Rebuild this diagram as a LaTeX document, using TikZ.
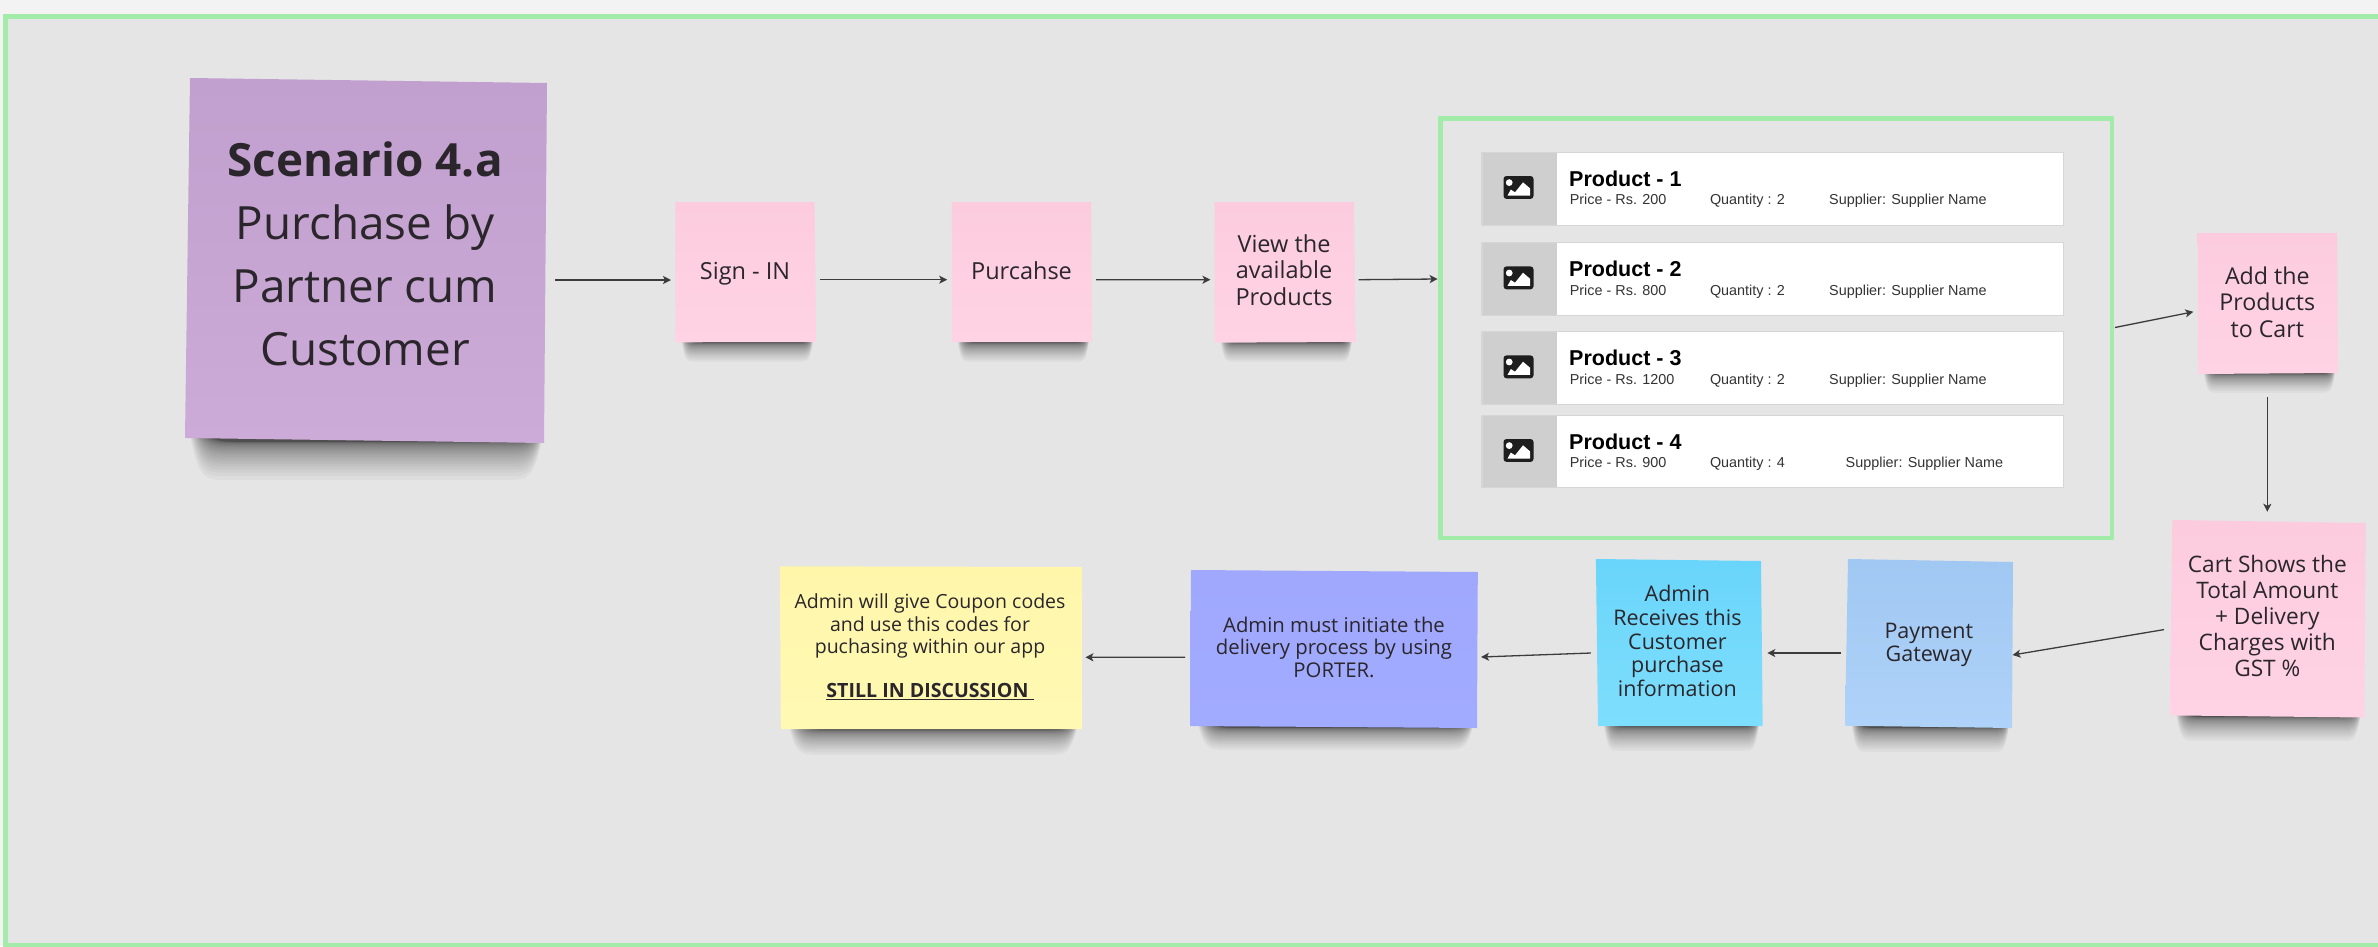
\documentclass[tikz,border=0pt]{standalone}
\usepackage{fontspec}
\setmainfont{Open Sans}
\newfontfamily\cardfont{Liberation Sans}
\usetikzlibrary{arrows.meta,calc}
\definecolor{pagebg}{HTML}{F3F3F3}
\definecolor{boardbg}{HTML}{E5E5E5}
\definecolor{framegreen}{HTML}{A3EBA9}
\definecolor{ink}{HTML}{2A262B}
\definecolor{arrowink}{HTML}{3C3C3C}
\definecolor{cardline}{HTML}{D6D6D6}
\definecolor{panegrey}{HTML}{CFCFCF}
\definecolor{icondark}{HTML}{1E1E1E}
\definecolor{purpA}{HTML}{C19FCE}\definecolor{purpB}{HTML}{CDABD8}
\definecolor{pinkA}{HTML}{FCCCDE}\definecolor{pinkB}{HTML}{FFD3E4}
\definecolor{yelA}{HTML}{FFF6AA}\definecolor{yelB}{HTML}{FFF9B4}
\definecolor{vioA}{HTML}{9FA8FC}\definecolor{vioB}{HTML}{A1ABFF}
\definecolor{cyaA}{HTML}{69D5FA}\definecolor{cyaB}{HTML}{7FDEFD}
\definecolor{bluA}{HTML}{A0C8F2}\definecolor{bluB}{HTML}{AFD2F9}
\tikzset{
  x=1pt,y=-1pt,
  conn/.style={draw=arrowink,line width=1.3pt,-{Stealth[length=8pt,width=8pt,inset=2pt]}},
  notebody/.style={inner sep=0pt,outer sep=0pt,rectangle},
  notetext/.style={inner sep=0pt,outer sep=0pt,align=center,text=ink},
  cardbox/.style={inner sep=0pt,outer sep=0pt,rectangle,draw=cardline,line width=1.5pt,fill=white},
  cardtitle/.style={inner sep=0pt,anchor=base west,font=\cardfont\bfseries\fontsize{21.5}{24}\selectfont,text=black},
  carddetail/.style={inner sep=0pt,anchor=base west,font=\cardfont\fontsize{14.4}{18}\selectfont,text=black!80},
}
\newcommand{\productcard}[8]{%
  \node[cardbox,minimum width=581.5pt,minimum height=#2pt] (#1) at (1772.75,#3+#2/2) {};
  \node[inner sep=0pt,outer sep=0pt,fill=panegrey,minimum width=74pt,minimum height=#2pt-1pt] (#1-pane) at (1519.5,#3+#2/2) {};
  \begin{scope}[shift={(0,#3)}]
    \fill[icondark,rounded corners=3pt] (1503.5,23.7) rectangle (1533.5,46.6);
    \fill[white] (1509.2,30.3) circle (3.4);
    \fill[white] (1507.5,43.2) -- (1510.8,37.3) -- (1515,40) -- (1523,30) -- (1530,36) -- (1530,43.2) -- cycle;
    \node[cardtitle] (#1-title) at (1569,33.7) {#4};
    \node[carddetail] (#1-price) at (1569.6,52.3) {#5};
    \node[carddetail] (#1-qty) at (1709.8,52.3) {#6};
    \node[carddetail] (#1-sup) at (#7,52.3) {#8};
  \end{scope}
}
\newcommand{\shadowband}[4]{%
  \foreach \i in {0,...,29}{%
    \pgfmathsetmacro{\tt}{\i/30}%
    \pgfmathsetmacro{\rch}{#4*(1-\tt)*(1-\tt)*(1-\tt)+0.8}%
    \pgfmathsetmacro{\xa}{#1+(#2-#1)*(0.01+0.07*\tt)}%
    \pgfmathsetmacro{\xb}{#2-(#2-#1)*(0.005+0.03*\tt)}%
    \pgfmathsetmacro{\yb}{#3+\rch}%
    \pgfmathsetmacro{\sw}{(#2-#1)*0.09}%
    \pgfmathsetmacro{\ca}{\xa+0.25*\sw}\pgfmathsetmacro{\cb}{\xa+0.5*\sw}\pgfmathsetmacro{\cc}{\xa+\sw}%
    \pgfmathsetmacro{\cd}{\xb-\sw}\pgfmathsetmacro{\ce}{\xb-0.5*\sw}\pgfmathsetmacro{\cf}{\xb-0.25*\sw}%
    \pgfmathsetmacro{\ya}{#3-3}%
    \fill[black,opacity=.03] (\xa,\ya) .. controls (\ca,\yb) and (\cb,\yb) .. (\cc,\yb) -- (\cd,\yb) .. controls (\ce,\yb) and (\cf,\yb) .. (\xb,\ya) -- cycle;
  }%
}
\newcommand{\sheet}[6]{\shade[top color=#5,bottom color=#6] #1 -- #2 -- #3 -- #4 -- cycle;}
\begin{document}
\begin{tikzpicture}
\useasboundingbox (0,0) rectangle (2378,946);
\fill[pagebg] (0,0) rectangle (2378,946);
\fill[boardbg] (5.5,16.5) rectangle (2378,946);
\draw[framegreen,line width=4.8pt] (2378,16.5) -- (5.5,16.5) -- (5.5,945.5) -- (2378,945.5);

\shadowband{187}{544}{441}{38}
\sheet{(190,78)}{(547,83)}{(544,443)}{(185,438)}{purpA}{purpB}
\node[notebody,minimum width=362pt,minimum height=365pt] (scen) at (366,260.5) {};

\shadowband{680}{814}{342}{19}
\sheet{(675.3,202)}{(814.6,202)}{(816,342)}{(675.3,342.3)}{pinkA}{pinkB}
\node[notebody,minimum width=140.7pt,minimum height=140.3pt] (sign) at (745.65,272.15) {};

\shadowband{956}{1090}{342}{19}
\sheet{(951.8,202)}{(1091,202)}{(1092,342)}{(951.8,342)}{pinkA}{pinkB}
\node[notebody,minimum width=140.2pt,minimum height=140pt] (purc) at (1021.9,272) {};

\shadowband{1219}{1353}{342}{19}
\sheet{(1214.6,202)}{(1354,202)}{(1355.4,342)}{(1214.6,342.7)}{pinkA}{pinkB}
\node[notebody,minimum width=140.8pt,minimum height=140.7pt] (view) at (1285,272.35) {};

\shadowband{2202}{2336}{373}{19}
\sheet{(2197.7,233)}{(2337,233)}{(2338,373)}{(2198,374)}{pinkA}{pinkB}
\node[notebody,minimum width=140.3pt,minimum height=141pt] (add) at (2267.85,303.5) {};

\shadowband{2174}{2362}{716}{24}
\sheet{(2172.3,520)}{(2365.7,523)}{(2364.3,717.5)}{(2170,715.4)}{pinkA}{pinkB}
\node[notebody,minimum width=195.7pt,minimum height=197.5pt] (cart) at (2267.85,618.75) {};

\shadowband{1850}{2010}{727}{24}
\sheet{(1848,559)}{(2013,562)}{(2012,728)}{(1845,725.7)}{bluA}{bluB}
\node[notebody,minimum width=168pt,minimum height=169pt] (pay) at (1929,643.5) {};

\shadowband{1602}{1760}{726}{24}
\sheet{(1595.9,559)}{(1761,561)}{(1762.7,726)}{(1598,726)}{cyaA}{cyaB}
\node[notebody,minimum width=166.8pt,minimum height=167pt] (recv) at (1679.3,642.5) {};

\shadowband{1195}{1475}{727}{22}
\sheet{(1191,570)}{(1477.8,572)}{(1477,728)}{(1190,726)}{vioA}{vioB}
\node[notebody,minimum width=287.8pt,minimum height=158pt] (deli) at (1333.9,649) {};

\shadowband{786}{1079}{729}{25}
\sheet{(779.8,566.3)}{(1081.8,567)}{(1081.8,729)}{(780.8,729)}{yelA}{yelB}
\node[notebody,minimum width=302pt,minimum height=162.7pt] (coup) at (930.8,647.65) {};

% Note texts
\node[notetext,font=\fontsize{45.8}{63}\selectfont] (scen-t) at (365,254) {{\bfseries Scenario 4.a}\\Purchase by\\Partner cum\\Customer};
\node[notetext,font=\fontsize{23.5}{26.5}\selectfont] (sign-t) at (745,274) {Sign - IN};
\node[notetext,font=\fontsize{23.5}{26.5}\selectfont] (purc-t) at (1021.5,271) {Purcahse};
\node[notetext,font=\fontsize{23.5}{26.5}\selectfont] (view-t) at (1284,270) {View the\\available\\Products};
\node[notetext,font=\fontsize{23.2}{26.5}\selectfont] (add-t) at (2267.3,302) {Add the\\Products\\to Cart};
\node[notetext,font=\fontsize{22.7}{25.8}\selectfont] (cart-t) at (2267.3,616) {Cart Shows the\\Total Amount\\+ Delivery\\Charges with\\GST \%};
\node[notetext,font=\fontsize{21.5}{23.5}\selectfont] (pay-t) at (1928.8,645) {Payment\\Gateway};
\node[notetext,font=\fontsize{21.5}{23.7}\selectfont] (recv-t) at (1677.4,641) {Admin\\Receives this\\Customer\\purchase\\information};
\node[notetext,font=\fontsize{20.3}{22.5}\selectfont] (deli-t) at (1334,647) {Admin must initiate the\\delivery process by using\\PORTER.};
\node[notetext,font=\fontsize{19.5}{22.7}\selectfont] (coup-t) at (930,626) {Admin will give Coupon codes\\and use this codes for\\puchasing within our app};
\node[inner sep=0pt,font=\bfseries\fontsize{19.6}{22}\selectfont,text=ink,anchor=base] (coup-d) at (930,697.5) {\underline{STILL IN DISCUSSION\ }};

% Product group
\node[rectangle,draw=framegreen,line width=4.5pt,inner sep=0pt,outer sep=0pt,minimum width=671.5pt,minimum height=419.5pt] (group) at (1776.25,328.25) {};
\productcard{cardA}{73.4}{152.3}{Product - 1}{Price - Rs. 200}{Quantity : 2}{1829}{Supplier: Supplier Name}
\productcard{cardB}{73}{242.7}{Product - 2}{Price - Rs. 800}{Quantity : 2}{1829}{Supplier: Supplier Name}
\productcard{cardC}{72.6}{331.7}{Product - 3}{Price - Rs. 1200}{Quantity : 2}{1829}{Supplier: Supplier Name}
\productcard{cardD}{72.4}{415.3}{Product - 4}{Price - Rs. 900}{Quantity : 4}{1845.5}{Supplier: Supplier Name}

% Connectors
\draw[conn] ($(scen.east)+(8,19.5)$) -- ($(sign.west)+(-4.3,7.85)$);
\draw[conn] ($(sign.east)+(3.7,7.55)$) -- ($(purc.west)+(-4.6,7.7)$);
\draw[conn] ($(purc.east)+(4,7.7)$) -- ($(view.west)+(-4.1,7.35)$);
\draw[conn] ($(view.east)+(3.1,7.35)$) -- ($(group.west)+(-2.9,-49.25)$);
\draw[conn] ($(group.east)+(3,-0.75)$) -- ($(add.west)+(-4.4,8.3)$);
\draw[conn] ($(add.south)+(-0.55,23)$) -- ($(cart.north)+(-0.55,-8.2)$);
\draw[conn] ($(cart.west)+(-6,10.85)$) -- ($(pay.east)+(-0.5,11.5)$);
\draw[conn] ($(pay.west)+(-4.2,9.5)$) -- ($(recv.east)+(4.6,10.5)$);
\draw[conn] ($(recv.west)+(-5,10.5)$) -- ($(deli.east)+(3.2,8)$);
\draw[conn] ($(deli.west)+(-5,8.3)$) -- ($(coup.east)+(3.6,9.65)$);
\end{tikzpicture}
\end{document}
